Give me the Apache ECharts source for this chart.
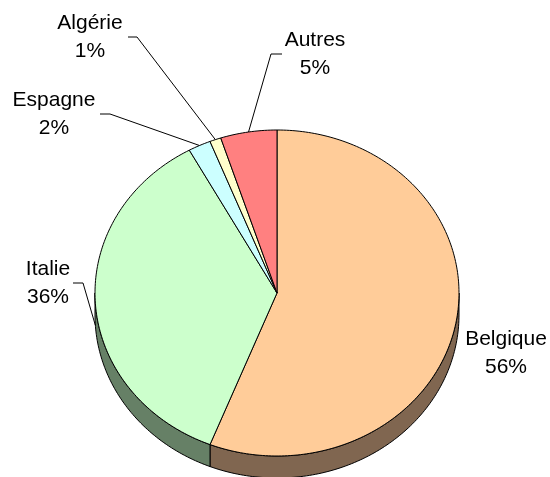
<!DOCTYPE html>
<html lang="fr">
  <head>
    <meta charset="UTF-8" />
    <title>Répartition</title>
    <script src="https://cdn.jsdelivr.net/npm/echarts@6/dist/echarts.min.js"></script>
    <style>
      html, body { margin: 0; padding: 0; background: #fff; }
    </style>
  </head>
  <body>
    <div id="main" style="width: 550px;height:477px;"></div>
    <script type="text/javascript">
      // données
      var categories = ["Belgique", "Italie", "Espagne", "Algérie", "Autres"];
      var values = [56, 36, 2, 1, 5];
      var topColors = ["#FFCC99", "#CCFFCC", "#CCFFFF", "#FFFFCC", "#FF8080"];
      var sideColors = ["#806650", "#668066", "#668080", "#808066", "#804040"];

      // mise en page (ellipse + étiquettes)
      var cx = 277, cy = 293, rx = 182, ry = 163, depth = 22;
      var labelPos = [[506, 353], [48, 283], [54, 114], [90, 37], [315, 54]];
      var leaderX = [null, [73, 83], [100, 110], [128, 137], [282, 271]];
      var font = '21px "Liberation Sans", Arial, sans-serif';

      var total = values.reduce(function (a, b) { return a + b; }, 0);

      function rim(deg, dy) {
        var t = deg * Math.PI / 180;
        return [cx + rx * Math.sin(t), cy - ry * Math.cos(t) + (dy || 0)];
      }
      function arc(a, b, dy) {
        var pts = [];
        var n = Math.max(2, Math.ceil(Math.abs(b - a)));
        for (var k = 0; k <= n; k++) {
          pts.push(rim(a + (b - a) * k / n, dy));
        }
        return pts;
      }

      function renderItem(params, api) {
        var i = params.dataIndex;
        var before = 0;
        for (var j = 0; j < i; j++) before += values[j];
        var a = before / total * 360;
        var b = (before + api.value(0)) / total * 360;
        var children = [];

        // face latérale (partie avant de l'ellipse)
        var s0 = Math.max(a, 90), s1 = Math.min(b, 270);
        if (s1 > s0) {
          var side = arc(s0, s1, 0).concat(arc(s1, s0, depth));
          children.push({
            type: "polygon",
            z2: 1,
            shape: { points: side },
            style: { fill: sideColors[i], stroke: "#000", lineWidth: 1 }
          });
        }

        // dessus
        children.push({
          type: "polygon",
          z2: 5,
          shape: { points: [[cx, cy]].concat(arc(a, b, 0)) },
          style: { fill: topColors[i], stroke: "#000", lineWidth: 1 }
        });

        // étiquette
        var pct = Math.round(api.value(0) / total * 100) + "%";
        children.push({
          type: "text",
          z2: 10,
          style: {
            text: categories[i] + "\n" + pct,
            x: labelPos[i][0],
            y: labelPos[i][1],
            align: "center",
            verticalAlign: "middle",
            lineHeight: 28,
            font: font,
            fill: "#000"
          }
        });

        // ligne de rappel
        if (leaderX[i]) {
          var m = (a + b) / 2;
          var t = m * Math.PI / 180;
          var anchor = rim(m, Math.cos(t) < 0 ? depth : 0);
          children.push({
            type: "polyline",
            z2: 10,
            shape: {
              points: [
                [leaderX[i][0], labelPos[i][1]],
                [leaderX[i][1], labelPos[i][1]],
                anchor
              ]
            },
            style: { stroke: "#000", lineWidth: 1, fill: null }
          });
        }

        return { type: "group", children: children };
      }

      var myChart = echarts.init(document.getElementById("main"));
      myChart.setOption({
        animation: false,
        backgroundColor: "#fff",
        series: [
          {
            type: "custom",
            coordinateSystem: "none",
            renderItem: renderItem,
            data: values.map(function (v, i) {
              return { name: categories[i], value: v };
            })
          }
        ]
      });
    </script>
  </body>
</html>
